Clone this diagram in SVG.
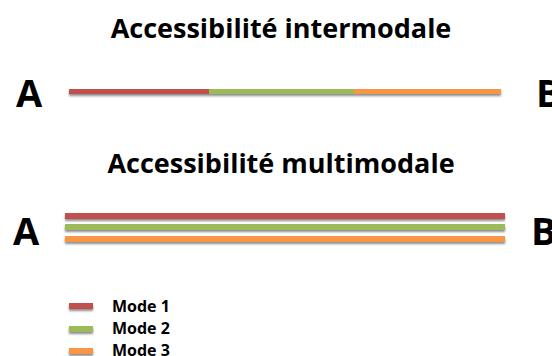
<svg xmlns="http://www.w3.org/2000/svg" width="552" height="356" viewBox="0 0 552 356">
  <style>
    .t{font-family:"Open Sans","Liberation Sans",sans-serif;font-weight:bold;fill:#000;font-variant-ligatures:none}
    .title{font-size:27px;text-anchor:middle}
    .pt{font-size:38px}
    .leg{font-size:16px}
    .red{fill:#C0504D}.green{fill:#9BBB59}.orange{fill:#F79646}
  </style>
  <defs>
    <filter id="sh" x="-5%" y="-100%" width="110%" height="400%">
      <feGaussianBlur in="SourceAlpha" stdDeviation="1.2"/>
      <feOffset dy="2" result="b"/>
      <feComponentTransfer><feFuncA type="linear" slope="0.45"/></feComponentTransfer>
      <feMerge><feMergeNode/><feMergeNode in="SourceGraphic"/></feMerge>
    </filter>
  </defs>
  <rect width="552" height="356" fill="#fff"/>
  <g id="intermodal">
    <text class="t title" x="281" y="38">Accessibilité intermodale</text>
    <text class="t pt" x="16" y="107">A</text>
    <text class="t pt" x="536" y="107">B</text>
    <g filter="url(#sh)">
      <rect class="red" x="69" y="89" width="140" height="5"/>
      <rect class="green" x="209" y="89" width="145" height="5"/>
      <rect class="orange" x="354" y="89" width="147" height="5"/>
    </g>
  </g>
  <g id="multimodal">
    <text class="t title" x="281" y="173">Accessibilité multimodale</text>
    <text class="t pt" x="13" y="245">A</text>
    <text class="t pt" x="531" y="245">B</text>
    <g filter="url(#sh)">
      <rect class="red" x="65" y="213" width="440" height="6"/>
      <rect class="green" x="65" y="224" width="440" height="6"/>
      <rect class="orange" x="65" y="236" width="440" height="6"/>
    </g>
  </g>
  <g id="legend">
    <g filter="url(#sh)">
      <rect class="red" x="69" y="303" width="24" height="6"/>
      <rect class="green" x="69" y="326" width="24" height="6"/>
      <rect class="orange" x="69" y="348" width="24" height="6"/>
    </g>
    <text class="t leg" x="112" y="312">Mode 1</text>
    <text class="t leg" x="112" y="334">Mode 2</text>
    <text class="t leg" x="112" y="356">Mode 3</text>
  </g>
</svg>
